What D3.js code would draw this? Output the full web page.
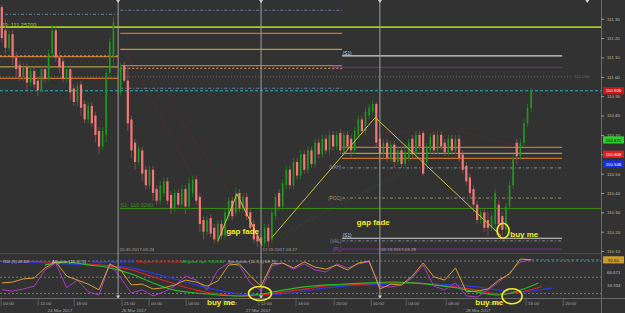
<!DOCTYPE html>
<html>
<head>
<meta charset="utf-8">
<script src="https://cdn.jsdelivr.net/npm/d3@7"></script>
<style>
  html, body { margin: 0; padding: 0; background: #323232; }
  svg { display: block; }
  text { font-family: "Liberation Sans", Arial, sans-serif; }
</style>
</head>
<body>
<div id="main"></div>
<script>
const ctx = {
  W: 625,
  H: 313,
  plotR: 601,
  mainB: 253,
  indT: 254,
  indB: 298,
};

// price axis ticks
const priceTicks = [111.30, 111.20, 111.10, 111.00, 110.90, 110.80, 110.70, 110.60, 110.50, 110.40, 110.30, 110.20, 110.10];

// candles [open, high, low, close]; friday starts at bar 0, the week at bar 33
const friStart = 0;
const friCandles = [
  [111.36, 111.37, 111.18, 111.20], [111.24, 111.30, 111.12, 111.15], [111.15, 111.24, 111.13, 111.22], [111.22, 111.24, 111.06, 111.10],
  [111.10, 111.13, 111.00, 111.04], [111.06, 111.08, 110.98, 111.00], [111.00, 111.07, 110.98, 111.05], [111.05, 111.07, 110.93, 110.97],
  [110.97, 111.05, 110.95, 111.03], [111.03, 111.05, 110.94, 110.96], [110.98, 111.00, 110.90, 110.93], [110.93, 111.06, 110.92, 111.04],
  [111.04, 111.06, 110.97, 110.99], [110.99, 111.14, 110.98, 111.12], [111.12, 111.27, 111.10, 111.24], [111.24, 111.26, 111.08, 111.10],
  [111.10, 111.13, 111.02, 111.05], [111.08, 111.10, 110.97, 110.99], [110.99, 111.06, 110.97, 111.04], [111.04, 111.06, 110.88, 110.92],
  [110.94, 110.96, 110.85, 110.87], [110.87, 110.97, 110.85, 110.95], [110.96, 110.98, 110.80, 110.84], [110.86, 110.88, 110.76, 110.78],
  [110.78, 110.87, 110.76, 110.85], [110.85, 110.87, 110.74, 110.76], [110.80, 110.82, 110.66, 110.70], [110.72, 110.74, 110.60, 110.64],
  [110.64, 110.74, 110.62, 110.72], [110.70, 111.04, 110.66, 111.02], [111.02, 111.20, 111.00, 111.18], [111.10, 111.31, 111.06, 111.28],
];
const wkStart = 33;
const wkCandles = [
  [110.92, 111.07, 110.90, 111.05], [111.06, 111.08, 110.97, 110.98], [110.98, 111.06, 110.72, 110.76], [110.78, 110.80, 110.58, 110.62],
  [110.66, 110.68, 110.52, 110.56], [110.56, 110.65, 110.54, 110.63], [110.62, 110.64, 110.46, 110.50], [110.52, 110.54, 110.42, 110.44],
  [110.44, 110.54, 110.42, 110.52], [110.52, 110.54, 110.36, 110.40], [110.42, 110.44, 110.34, 110.36], [110.36, 110.46, 110.34, 110.44],
  [110.40, 110.48, 110.38, 110.46], [110.46, 110.48, 110.34, 110.36], [110.39, 110.41, 110.29, 110.32], [110.32, 110.42, 110.30, 110.40],
  [110.40, 110.42, 110.32, 110.34], [110.34, 110.44, 110.32, 110.42], [110.42, 110.44, 110.29, 110.33], [110.33, 110.48, 110.31, 110.45],
  [110.40, 110.49, 110.38, 110.47], [110.47, 110.49, 110.34, 110.36], [110.38, 110.40, 110.20, 110.24], [110.26, 110.28, 110.16, 110.20],
  [110.20, 110.28, 110.18, 110.26], [110.27, 110.29, 110.17, 110.19], [110.22, 110.24, 110.14, 110.16], [110.16, 110.26, 110.14, 110.24],
  [110.24, 110.26, 110.16, 110.18], [110.18, 110.32, 110.16, 110.30], [110.28, 110.38, 110.26, 110.36], [110.36, 110.38, 110.26, 110.28],
  [110.30, 110.43, 110.28, 110.40], [110.40, 110.42, 110.30, 110.32], [110.32, 110.40, 110.30, 110.38], [110.38, 110.40, 110.26, 110.28],
  [110.30, 110.32, 110.20, 110.22], [110.24, 110.26, 110.14, 110.16], [110.18, 110.20, 110.12, 110.15], [110.17, 110.19, 110.12, 110.14],
  [110.14, 110.24, 110.12, 110.22], [110.22, 110.24, 110.12, 110.15], [110.16, 110.32, 110.14, 110.30], [110.28, 110.40, 110.26, 110.38],
  [110.40, 110.42, 110.31, 110.33], [110.33, 110.47, 110.31, 110.45], [110.44, 110.54, 110.42, 110.52], [110.52, 110.54, 110.42, 110.44],
  [110.44, 110.58, 110.42, 110.56], [110.56, 110.58, 110.47, 110.49], [110.49, 110.62, 110.47, 110.60], [110.60, 110.62, 110.50, 110.52],
  [110.52, 110.64, 110.50, 110.62], [110.62, 110.64, 110.53, 110.55], [110.55, 110.68, 110.53, 110.66], [110.66, 110.68, 110.58, 110.60],
  [110.60, 110.70, 110.58, 110.68], [110.68, 110.70, 110.60, 110.62], [110.62, 110.72, 110.60, 110.70], [110.70, 110.72, 110.62, 110.64],
  [110.64, 110.72, 110.62, 110.70], [110.71, 110.73, 110.60, 110.62], [110.62, 110.72, 110.60, 110.70], [110.70, 110.72, 110.62, 110.64],
  [110.68, 110.70, 110.58, 110.62], [110.62, 110.74, 110.60, 110.72], [110.70, 110.80, 110.68, 110.78], [110.78, 110.80, 110.70, 110.72],
  [110.72, 110.84, 110.70, 110.82], [110.80, 110.86, 110.78, 110.84], [110.82, 110.88, 110.80, 110.86], [110.86, 110.87, 110.64, 110.66],
  [110.68, 110.70, 110.56, 110.60], [110.60, 110.68, 110.58, 110.66], [110.66, 110.68, 110.56, 110.58], [110.58, 110.67, 110.56, 110.65],
  [110.65, 110.67, 110.53, 110.56], [110.56, 110.64, 110.54, 110.62], [110.62, 110.64, 110.53, 110.55], [110.55, 110.63, 110.53, 110.61],
  [110.58, 110.68, 110.56, 110.66], [110.68, 110.70, 110.58, 110.60], [110.60, 110.72, 110.58, 110.70], [110.70, 110.72, 110.62, 110.64],
  [110.71, 110.72, 110.49, 110.50], [110.56, 110.66, 110.54, 110.64], [110.62, 110.71, 110.60, 110.69], [110.70, 110.72, 110.60, 110.62],
  [110.62, 110.72, 110.60, 110.70], [110.70, 110.72, 110.62, 110.64], [110.66, 110.68, 110.59, 110.61], [110.61, 110.70, 110.59, 110.68],
  [110.68, 110.70, 110.60, 110.62], [110.62, 110.70, 110.60, 110.68], [110.68, 110.70, 110.56, 110.58], [110.60, 110.62, 110.50, 110.52],
  [110.54, 110.56, 110.44, 110.46], [110.48, 110.50, 110.38, 110.40], [110.42, 110.44, 110.30, 110.34], [110.34, 110.36, 110.24, 110.26],
  [110.26, 110.32, 110.24, 110.30], [110.30, 110.32, 110.20, 110.22], [110.26, 110.30, 110.18, 110.22], [110.22, 110.30, 110.20, 110.28],
  [110.24, 110.42, 110.20, 110.40], [110.34, 110.36, 110.19, 110.24], [110.28, 110.30, 110.18, 110.21], [110.21, 110.35, 110.19, 110.33],
  [110.33, 110.46, 110.31, 110.44], [110.44, 110.60, 110.42, 110.58], [110.66, 110.68, 110.55, 110.59], [110.59, 110.68, 110.57, 110.66],
  [110.66, 110.78, 110.64, 110.76], [110.76, 110.86, 110.74, 110.84], [110.84, 110.94, 110.82, 110.93],
];

// session separators (bar positions) and their stamps
const sessionBars = [32.3, 72, 105];
const sessionLabels = ["20:45 2017-03-24", "12:15 2017-03-27", "01:15 2017-03-28"];
const topMarkBars = [32.3, 72, 105, 162.6];

// horizontal levels: [kind, price, fromBar, toBar]
const levels = [
  ["grayDot", 111.000, -0.5, 158],
  ["pivBlue", 111.323, 0.9, 32.3],
  ["orange", 111.104, -0.5, 32.3],
  ["tanDash", 111.108, -0.5, 32.3],
  ["gold", 111.051, -0.5, 32.3],
  ["orange", 110.992, -0.5, 32.3],
  ["pivBlue", 111.344, 32.9, 94.5],
  ["orange", 111.225, 32.9, 94.5],
  ["gold", 111.142, 32.9, 94.5],
  ["orange", 111.058, 32.9, 94.5],
  ["tanDash", 111.044, 32.9, 94.5],
  ["pivBlue", 110.941, 32.9, 94.5],
  ["white", 111.108, 94.5, 155.6],
  ["purple", 111.049, 94.5, 155.6],
  ["orange", 110.636, 94.5, 155.6],
  ["gold", 110.605, 94.5, 155.6],
  ["orange", 110.579, 94.5, 155.6],
  ["vah", 110.530, 94.5, 155.6],
  ["poc", 110.374, 94.5, 155.6],
  ["white", 110.166, 94.5, 155.6],
  ["vah", 110.152, 94.5, 155.6],
  ["purple", 110.110, 94.5, 155.6],
  ["s1", 110.320, 32.8, 166.4],
  ["cyan", 110.928, -0.5, 166.4],
  ["r3", 111.257, -0.5, 166.4],
];
// level tags: [text, bar, price]
const levelTags = [
  ["(S1)", 94.7, 111.108], ["(PP)", 94.3, 111.049], ["(VAH)", 94.3, 110.530], ["(POC)", 94.3, 110.374],
  ["(S1)", 94.7, 110.166], ["(VAL)", 94.3, 110.152], ["(PL)", 94.3, 110.110],
];

// price boxes on the right axis: [price, text]
const priceBoxes = [[110.928, "110.926"], [110.674, "110.671"], [110.600, "110.608"], [110.550, "110.548"]];

// zigzags drawn on the chart: [bar, price]
const fade1 = [[60, 110.15], [65.3, 110.395], [72.3, 110.13]];
const fade2 = [[75, 110.17], [103.7, 110.79], [138.7, 110.178]];
// faint dotted trend lines
const redTrendA = [[33.4, 111.165], [56.4, 110.364]];
const redTrendB = [[41.2, 111.01], [70.3, 110.21]];
const redTrendC = [[105, 110.71], [125, 110.73], [148, 110.62]];
const greenTrend = [[75, 110.157], [117.6, 110.57]];

// oscillators, one value every 3 bars from bar 0
const oscStep = 3;
const rsiVals = [36, 38, 46, 48, 73, 88, 53, 43, 33, 19, 83, 68, 31, 33, 21, 24, 31, 43, 38, 28, 41, 80, 83, 53, 28,
  83, 85, 73, 88, 75, 70, 80, 68, 85, 90, 21, 33, 31, 53, 85, 51, 43, 73, 14, 16, 21, 43, 58, 95, 93];
const stochVals = [19, 16, 21, 28, 68, 85, 24, 43, 14, 6, 83, 48, 11, 19, 4, 14, 28, 53, 43, 19, 68, 85, 78, 36, 16,
  78, 85, 70, 83, 68, 63, 83, 73, 83, 88, 28, 26, 31, 48, 80, 28, 19, 36, 4, 1, 19, 38, 61, 88, 93];
const oscLevels = [90, 50, 10];

// alligator lines [bar, price]
const jaw = [[0, 111.19], [6, 111.19], [12, 111.16], [18, 111.13], [24, 111.10], [30, 111.07], [36, 111.01], [42, 110.85], [48, 110.67],
  [54, 110.49], [60, 110.33], [66, 110.21], [72, 110.18], [78, 110.21], [84, 110.30], [90, 110.40], [96, 110.46], [102, 110.49],
  [108, 110.52], [114, 110.55], [120, 110.52], [126, 110.49], [132, 110.43], [138, 110.33], [144, 110.27], [150, 110.35], [153, 110.40]];
const teeth = [[6, 111.22], [12, 111.19], [18, 111.16], [24, 111.13], [30, 111.07], [36, 110.95], [42, 110.73], [48, 110.52], [54, 110.33],
  [60, 110.21], [66, 110.15], [72, 110.18], [78, 110.27], [84, 110.36], [90, 110.46], [96, 110.49], [102, 110.52], [108, 110.55],
  [114, 110.55], [120, 110.49], [126, 110.43], [132, 110.33], [138, 110.21], [144, 110.27], [150, 110.44]];
const lips = [[12, 111.10], [18, 111.19], [24, 111.10], [30, 111.01], [36, 110.82], [42, 110.55], [48, 110.33], [54, 110.24], [60, 110.18],
  [66, 110.15], [72, 110.21], [78, 110.33], [84, 110.43], [90, 110.49], [96, 110.52], [102, 110.55], [108, 110.58], [114, 110.55],
  [120, 110.49], [126, 110.40], [132, 110.27], [138, 110.18], [144, 110.33], [149, 110.55]];

// time axis
const timeBars = [-0.2, 10.1, 20.1, 33.4, 40.9, 51.2, 61.7, 71.4, 81.7, 92.3, 102.6, 112.3, 123.4, 134.5, 145.6, 155.9];
const timeLabels = ["00:00", "12:00", "18:00", "21:00", "00:00", "04:00", "08:00", "12:00", "16:00", "20:00", "00:00", "04:00", "08:00", "12:00", "16:00", "20:00"];
const dateBars = [16.2, 36.7, 71.2, 132.3];
const dateLabels = ["24 Mar 2017", "26 Mar 2017", "27 Mar 2017", "28 Mar 2017"];

const levelStyle = {
  r3: { stroke: "#a6cc1e", w: 1.6 },
  cyan: { stroke: "#22b4bc", w: 1.1, dash: "3,2" },
  grayDot: { stroke: "#6c6c6c", w: 1, dash: "1,2" },
  s1: { stroke: "#3c8c18", w: 1 },
  pivBlue: { stroke: "#6a7fa0", w: 1, dash: "3,2,1,2" },
  orange: { stroke: "#c8742a", w: 1.2 },
  gold: { stroke: "#ad9a46", w: 1.2 },
  tanDash: { stroke: "#d8a860", w: 1, dash: "2,2" },
  white: { stroke: "#d4d4d4", w: 1.2 },
  purple: { stroke: "#8a2a9a", w: 1 },
  vah: { stroke: "#6e7688", w: 1.2, dash: "3,2,1,2" },
  poc: { stroke: "#a08c66", w: 1, dash: "3,2,1,2" },
};
const tagColor = { "(S1)": "#cfcfcf", "(PP)": "#b03ab8", "(VAH)": "#7c88a8", "(POC)": "#b09870", "(VAL)": "#7c88a8", "(PL)": "#b03ab8" };
const boxColor = ["#c81818", "#2ecc2e", "#e02020", "#1830e0"];
const boxText = ["#fff", "#000", "#fff", "#fff"];

function createViz() {
  const svg = d3.select("#main").append("svg").attr("width", ctx.W).attr("height", ctx.H);
  svg.append("rect").attr("width", ctx.W).attr("height", ctx.H).attr("fill", "#323232");

  const x = d3.scaleLinear().domain([-0.5, 166.4]).range([0, ctx.plotR]);
  const y = d3.scaleLinear().domain([110.095, 111.397]).range([252, 0]);
  const yi = d3.scaleLinear().domain([0, 100]).range([297.5, 257]);
  const ya = d3.scaleLinear().domain([110.12, 111.25]).range([297, 260]);

  const defs = svg.append("defs");
  defs.append("clipPath").attr("id", "clipMain").append("rect").attr("width", ctx.plotR).attr("height", ctx.mainB);
  defs.append("clipPath").attr("id", "clipInd").append("rect").attr("y", ctx.indT).attr("width", ctx.plotR).attr("height", ctx.indB - ctx.indT);

  const main = svg.append("g").attr("clip-path", "url(#clipMain)");

  // faint dotted trend lines
  const pline = d3.line().x(d => x(d[0])).y(d => y(d[1]));
  [redTrendA, redTrendB, redTrendC].forEach(t => {
    main.append("path").attr("d", pline(t)).attr("fill", "none").attr("stroke", "#7a2626").attr("stroke-dasharray", "1,2");
  });
  main.append("path").attr("d", pline(greenTrend)).attr("fill", "none").attr("stroke", "#2f602f").attr("stroke-dasharray", "1,2");

  // horizontal levels
  main.selectAll("line.level").data(levels).join("line")
    .attr("class", "level")
    .attr("x1", d => x(d[2])).attr("x2", d => x(d[3]))
    .attr("y1", d => y(d[1])).attr("y2", d => y(d[1]))
    .attr("stroke", d => levelStyle[d[0]].stroke)
    .attr("stroke-width", d => levelStyle[d[0]].w)
    .attr("stroke-dasharray", d => levelStyle[d[0]].dash || null);

  main.selectAll("text.tag").data(levelTags).join("text")
    .attr("class", "tag")
    .attr("x", d => x(d[1]))
    .attr("y", d => d[0] === "(S1)" ? y(d[2]) - 1 : y(d[2]) + 1.6)
    .attr("text-anchor", d => d[0] === "(S1)" ? "start" : "end")
    .attr("font-size", 4.6)
    .attr("fill", d => tagColor[d[0]])
    .text(d => d[0]);

  main.append("text").attr("x", 0.5).attr("y", y(111.257) - 0.5).attr("font-size", 5.6).attr("fill", "#a6cc1e").text("R3: 111.25700");
  main.append("text").attr("x", x(32.9)).attr("y", y(110.32) - 1).attr("font-size", 5.6).attr("fill", "#3c8c18").text("S1: 110.3200");
  main.append("text").attr("x", x(159)).attr("y", y(111.0) + 1.6).attr("font-size", 4.4).attr("fill", "#6c6c6c").text("111.000");

  // candles
  const candles = friCandles.map((d, i) => ({ bar: friStart + i, o: d[0], h: d[1], l: d[2], c: d[3] }))
    .concat(wkCandles.map((d, i) => ({ bar: wkStart + i, o: d[0], h: d[1], l: d[2], c: d[3] })));
  const bull = d => d.c >= d.o;
  main.selectAll("line.wick").data(candles).join("line")
    .attr("class", "wick")
    .attr("x1", d => x(d.bar)).attr("x2", d => x(d.bar))
    .attr("y1", d => y(d.h)).attr("y2", d => y(d.l))
    .attr("stroke", d => bull(d) ? "#1b7d1b" : "#8c4c4c")
    .attr("stroke-width", 0.9);
  main.selectAll("rect.body").data(candles).join("rect")
    .attr("class", "body")
    .attr("x", d => x(d.bar) - (bull(d) ? 0.8 : 1.1))
    .attr("width", d => bull(d) ? 1.6 : 2.2)
    .attr("y", d => y(Math.max(d.o, d.c)))
    .attr("height", d => Math.max(1, y(Math.min(d.o, d.c)) - y(Math.max(d.o, d.c))))
    .attr("fill", d => bull(d) ? "#1f9a1f" : "#f27878");

  // zigzags
  [fade1, fade2].forEach(t => {
    main.append("path").attr("d", pline(t)).attr("fill", "none").attr("stroke", "#c9c23a").attr("stroke-width", 1);
  });

  // panel separator
  svg.append("line").attr("x1", 0).attr("x2", ctx.plotR).attr("y1", 253.5).attr("y2", 253.5).attr("stroke", "#4a4a4a");

  // oscillator panel
  const ind = svg.append("g").attr("clip-path", "url(#clipInd)");
  ind.selectAll("line.osc").data(oscLevels).join("line")
    .attr("x1", 0).attr("x2", ctx.plotR)
    .attr("y1", d => yi(d)).attr("y2", d => yi(d))
    .attr("stroke", "#8a8a8a").attr("stroke-dasharray", "2,2").attr("stroke-width", 0.8);

  const oscLine = d3.line().x((d, i) => x(i * oscStep)).y(d => yi(d));
  const allLine = d3.line().x(d => x(d[0])).y(d => ya(d[1])).curve(d3.curveMonotoneX);
  ind.append("path").attr("d", allLine(jaw)).attr("fill", "none").attr("stroke", "#2a3ae0").attr("stroke-width", 1.1);
  ind.append("path").attr("d", allLine(teeth)).attr("fill", "none").attr("stroke", "#e02222").attr("stroke-width", 1.1);
  ind.append("path").attr("d", allLine(lips)).attr("fill", "none").attr("stroke", "#22c022").attr("stroke-width", 1.1);
  ind.append("path").attr("d", oscLine(stochVals)).attr("fill", "none").attr("stroke", "#a63cc4").attr("stroke-width", 1);
  ind.append("path").attr("d", oscLine(rsiVals)).attr("fill", "none").attr("stroke", "#d9a02c").attr("stroke-width", 1);
  const lastRsi = rsiVals[rsiVals.length - 1];
  ind.append("line").attr("x1", x((rsiVals.length - 1) * oscStep)).attr("x2", ctx.plotR)
    .attr("y1", yi(lastRsi)).attr("y2", yi(lastRsi))
    .attr("stroke", "#2a8c8c").attr("stroke-dasharray", "3,2");

  const head = svg.append("text").attr("x", 3).attr("y", 262.5).attr("font-size", 4.3);
  head.append("tspan").attr("fill", "#bdbdbd").text("RSI (9) 48.69");
  head.append("tspan").attr("x", 52).attr("fill", "#cfcfcf").text("Alligator (13, 8, 5)");
  head.append("tspan").attr("x", 93).attr("fill", "#3a4ae8").text("Alligator Jaw: 110.915");
  head.append("tspan").attr("x", 137).attr("fill", "#e02222").text("Alligator Teeth: 110.658");
  head.append("tspan").attr("x", 182).attr("fill", "#22c022").text("Alligator Lips: 110.664");
  head.append("tspan").attr("x", 228).attr("fill", "#bdbdbd").text("Stochastic (10,3,3) 68.79");

  // session separators
  svg.selectAll("line.sess").data(sessionBars).join("line")
    .attr("x1", d => x(d)).attr("x2", d => x(d)).attr("y1", 0).attr("y2", 298)
    .attr("stroke", "#9c9c9c").attr("stroke-width", 1);
  svg.selectAll("text.sess").data(sessionBars).join("text")
    .attr("x", d => x(d) + 1.5).attr("y", 251).attr("font-size", 4.4).attr("fill", "#a8a8a8")
    .text((d, i) => sessionLabels[i]);
  svg.selectAll("path.topmark").data(topMarkBars).join("path")
    .attr("d", d => `M${x(d) - 2},0L${x(d) + 2},0L${x(d)},3Z`).attr("fill", "#d0d0d0");
  svg.selectAll("path.botmark").data(sessionBars).join("path")
    .attr("d", d => `M${x(d) - 2},295.5L${x(d) + 2},295.5L${x(d)},298.5Z`).attr("fill", "#d0d0d0");

  // right price axis
  const axisG = svg.append("g").attr("transform", `translate(${ctx.plotR},0)`)
    .call(d3.axisRight(y).tickValues(priceTicks).tickFormat(d3.format(".2f")).tickSize(3).tickSizeOuter(0));
  axisG.select(".domain").attr("stroke", "#6a6a6a").attr("d", "M0.5,0V313");
  axisG.selectAll(".tick line").attr("stroke", "#9a9a9a");
  axisG.selectAll(".tick text").attr("font-size", 4.4).attr("fill", "#bdbdbd").attr("x", 6);

  const boxes = svg.selectAll("g.pbox").data(priceBoxes).join("g").attr("class", "pbox")
    .attr("transform", d => `translate(${ctx.plotR + 2},${y(d[0])})`);
  boxes.append("rect").attr("x", 0).attr("y", -3.6).attr("width", 21).attr("height", 7.2).attr("fill", (d, i) => boxColor[i]);
  boxes.append("text").attr("x", 10.5).attr("y", 1.7).attr("text-anchor", "middle").attr("font-size", 4.4)
    .attr("fill", (d, i) => boxText[i]).text(d => d[1]);

  const ob = svg.append("g").attr("transform", `translate(${ctx.plotR + 2},${yi(lastRsi)})`);
  ob.append("rect").attr("y", -3.6).attr("width", 21).attr("height", 7.2).attr("fill", "#c89a30");
  ob.append("text").attr("x", 10.5).attr("y", 1.7).attr("text-anchor", "middle").attr("font-size", 4.4).attr("fill", "#222").text("92.60");
  svg.selectAll("text.oscax").data([66.671, 33.334]).join("text")
    .attr("x", ctx.plotR + 6).attr("y", d => yi(d) + 3.5).attr("font-size", 4.4).attr("fill", "#bdbdbd")
    .text(d => d.toFixed(3));

  // time axis
  svg.append("line").attr("x1", 0).attr("x2", ctx.W).attr("y1", 298.5).attr("y2", 298.5).attr("stroke", "#6a6a6a");
  const tg = svg.append("g");
  tg.selectAll("line").data(timeBars).join("line")
    .attr("x1", d => x(d)).attr("x2", d => x(d)).attr("y1", 299).attr("y2", 306)
    .attr("stroke", "#5c5c5c");
  tg.selectAll("text").data(timeBars).join("text")
    .attr("x", d => x(d) + 2).attr("y", 304.5).attr("font-size", 4.4).attr("fill", "#a8a8a8")
    .text((d, i) => timeLabels[i]);
  svg.selectAll("text.date").data(dateBars).join("text")
    .attr("x", d => x(d)).attr("y", 311.5).attr("text-anchor", "middle").attr("font-size", 4.4).attr("fill", "#a8a8a8")
    .text((d, i) => dateLabels[i]);

  // annotations, drawn last so they sit on top like in the original
  const yellow = "#f2ee1c";
  svg.append("text").attr("x", x(62.3)).attr("y", y(110.19)).attr("font-size", 8).attr("font-weight", "bold").attr("fill", yellow).text("gap  fade");
  svg.append("text").attr("x", x(98.6)).attr("y", y(110.235)).attr("font-size", 8).attr("font-weight", "bold").attr("fill", yellow).text("gap fade");
  svg.append("ellipse").attr("cx", x(139.2)).attr("cy", y(110.205)).attr("rx", 6).attr("ry", 7.5)
    .attr("fill", "none").attr("stroke", yellow).attr("stroke-width", 1.6);
  svg.append("text").attr("x", x(141.2)).attr("y", y(110.17)).attr("font-size", 8).attr("font-weight", "bold").attr("fill", yellow).text("buy me");
  svg.append("ellipse").attr("cx", x(71.7)).attr("cy", yi(10)).attr("rx", 11.5).attr("ry", 7)
    .attr("fill", "none").attr("stroke", yellow).attr("stroke-width", 1.6);
  svg.append("text").attr("x", x(57)).attr("y", 305).attr("font-size", 8).attr("font-weight", "bold").attr("fill", yellow).text("buy me");
  svg.append("ellipse").attr("cx", x(141.7)).attr("cy", yi(3)).attr("rx", 10).attr("ry", 7.5)
    .attr("fill", "none").attr("stroke", yellow).attr("stroke-width", 1.6);
  svg.append("text").attr("x", x(131.5)).attr("y", 305).attr("font-size", 8).attr("font-weight", "bold").attr("fill", yellow).text("buy me");
}

createViz();
</script>
</body>
</html>
